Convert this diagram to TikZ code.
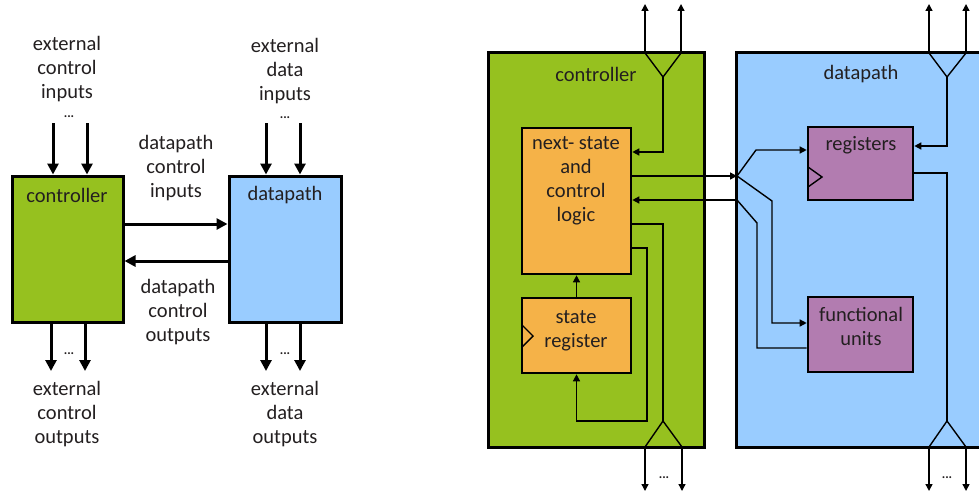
\documentclass[tikz,border=0pt]{standalone}
\usepackage{fontspec}
\setmainfont{Carlito}
\usetikzlibrary{arrows.meta,calc}
\definecolor{ctlgreen}{RGB}{150,193,31}
\definecolor{dpblue}{RGB}{153,204,255}
\definecolor{logicorange}{RGB}{245,178,72}
\definecolor{unitpurple}{RGB}{178,124,176}
\definecolor{ink}{RGB}{35,31,32}
\tikzset{
  lbl/.style={text=ink, font=\fontsize{20.5}{24}\selectfont, align=center, inner sep=0pt},
  dots/.style={text=ink, font=\fontsize{13}{13}\selectfont\bfseries, inner sep=0pt},
  bigblk/.style={draw=black, line width=3pt, inner sep=0pt},
  smallblk/.style={draw=black, line width=2.6pt, inner sep=0pt},
  fat/.style={line width=3pt, -{Triangle[length=11pt,width=11pt]}},
  thin/.style={line width=1.4pt},
  thinarr/.style={thin, -{Triangle[length=7pt,width=7pt]}},
}
\begin{document}
\begin{tikzpicture}[x=1pt,y=-1pt]
\clip (0,0) rectangle (979,495);
\fill[white] (0,0) rectangle (979,495);

% ---------------- abstract view ----------------
\node[bigblk, fill=ctlgreen, minimum width=111pt, minimum height=146pt] (lctl) at (67.5,249) {};
\node[bigblk, fill=dpblue, minimum width=112pt, minimum height=146pt] (ldp) at (285,249) {};
\node[lbl] (lctltxt) at (67,195) {controller};
\node[lbl] (ldptxt) at (285,195) {datapath};

\node[lbl] (eci) at (67,69) {external\\control\\inputs};
\node[lbl] (edi) at (285,71) {external\\data\\inputs};
\node[lbl] (dci) at (176,168) {datapath\\control\\inputs};
\node[lbl] (dco) at (178,312) {datapath\\control\\outputs};
\node[lbl] (eco) at (67,414) {external\\control\\outputs};
\node[lbl] (edo) at (285,414) {external\\data\\outputs};

% external inputs and outputs
\coordinate (ci1) at (53,123);  \coordinate (ci2) at (87,123);
\coordinate (di1) at (266,123); \coordinate (di2) at (300,123);
\coordinate (co1) at (51,371);  \coordinate (co2) at (85,371);
\coordinate (do1) at (266,371); \coordinate (do2) at (300,371);
\draw[fat] (ci1) -- (ci1 |- lctl.north);
\draw[fat] (ci2) -- (ci2 |- lctl.north);
\draw[fat] (di1) -- (di1 |- ldp.north);
\draw[fat] (di2) -- (di2 |- ldp.north);
\draw[fat] (co1 |- lctl.south) -- (co1);
\draw[fat] (co2 |- lctl.south) -- (co2);
\draw[fat] (do1 |- ldp.south) -- (do1);
\draw[fat] (do2 |- ldp.south) -- (do2);
\node[dots] (d1) at (69,117) {...};
\node[dots] (d2) at (285,118) {...};
\node[dots] (d3) at (69,354) {...};
\node[dots] (d4) at (285,354) {...};

% control inputs and outputs between the blocks
\coordinate (cin) at (123,224);
\coordinate (cout) at (229,261);
\draw[fat] (cin) -- (cin -| ldp.west);
\draw[fat] (cout) -- (cout -| lctl.east);

% ---------------- detailed view ----------------
\node[bigblk, fill=ctlgreen, minimum width=216pt, minimum height=394pt] (ctl) at (596,250) {};
\node[bigblk, fill=dpblue, minimum width=254pt, minimum height=394pt] (dp) at (863,250) {};
\node[lbl] (ctltxt) at (596,74) {controller};
\node[lbl] (dptxt) at (861,74) {datapath};

\node[smallblk, fill=logicorange, minimum width=109pt, minimum height=146pt] (ns) at (576.5,201) {};
\node[smallblk, fill=logicorange, minimum width=109pt, minimum height=75pt] (sr) at (576.5,335.5) {};
\node[smallblk, fill=unitpurple, minimum width=105pt, minimum height=73pt] (reg) at (860.5,163.5) {};
\node[smallblk, fill=unitpurple, minimum width=105pt, minimum height=75pt] (fu) at (860.5,334.5) {};

\node[lbl] (nstxt) at (576,181) {next- state\\and\\control\\logic};
\node[lbl] (srtxt) at (576,331) {state\\register};
\node[lbl] (regtxt) at (861,145) {registers};
\node[lbl] (futxt) at (861,326) {functional\\units};

% clock inputs
\draw[thin] (522,325) -- (533,336) -- (522,347);
\draw[thin] (808,167) -- (822,177) -- (808,187);

% controller external ports
\coordinate (cta) at (663,77);
\coordinate (ctl1) at (645,53); \coordinate (ctr1) at (681,53);
\coordinate (cba) at (663,421);
\coordinate (cbl) at (645,447); \coordinate (cbr) at (682,447);
\draw[thin] (ctl1) -- (cta) -- (ctr1);
\draw[thin] (cbl) -- (cba) -- (cbr);
\draw[thinarr] (ctl1) -- (645,4);
\draw[thinarr] (ctr1) -- (681,4);
\draw[thinarr] (cbl) -- (645,491);
\draw[thinarr] (cbr) -- (682,491);
\node[dots] (d5) at (664,478) {...};

% datapath external ports
\coordinate (dta) at (947,77);
\coordinate (dtl) at (929,53); \coordinate (dtr) at (966,53);
\coordinate (dba) at (947,421);
\coordinate (dbl) at (929,447); \coordinate (dbr) at (966,447);
\draw[thin] (dtl) -- (dta) -- (dtr);
\draw[thin] (dbl) -- (dba) -- (dbr);
\draw[thinarr] (dtl) -- (929,4);
\draw[thinarr] (dtr) -- (966,4);
\draw[thinarr] (dbl) -- (929,491);
\draw[thinarr] (dbr) -- (966,491);
\node[dots] (d6) at (947,478) {...};

% controller internal wiring
\draw[thinarr] (cta) |- (ns.east |- 0,152);
\draw[thin] (ns.east |- 0,224) -| (cba);
\draw[thinarr] (ns.east |- 0,248) -- (647,248) -- (647,421) -| (sr.south);
\draw[thinarr] (sr.north) -- (ns.south);

% controller <-> datapath signals
\coordinate (fan) at (737,176);
\coordinate (back) at (737,200);
\draw[thinarr] (ns.east |- fan) -- (fan);
\draw[thinarr] (back) -- (back -| ns.east);

% datapath internal wiring
\draw[thinarr] (fan) -- (756,150) -- (reg.west |- 0,150);
\draw[thinarr] (fan) -- (772,201) -- (772,323) -- (fu.west |- 0,323);
\draw[thin] (fu.west |- 0,348) -- (757,348) -- (757,223) -- (back);
\draw[thinarr] (dta) |- (reg.east |- 0,146);
\draw[thin] (reg.east |- 0,173) -| (dba);
\end{tikzpicture}
\end{document}
